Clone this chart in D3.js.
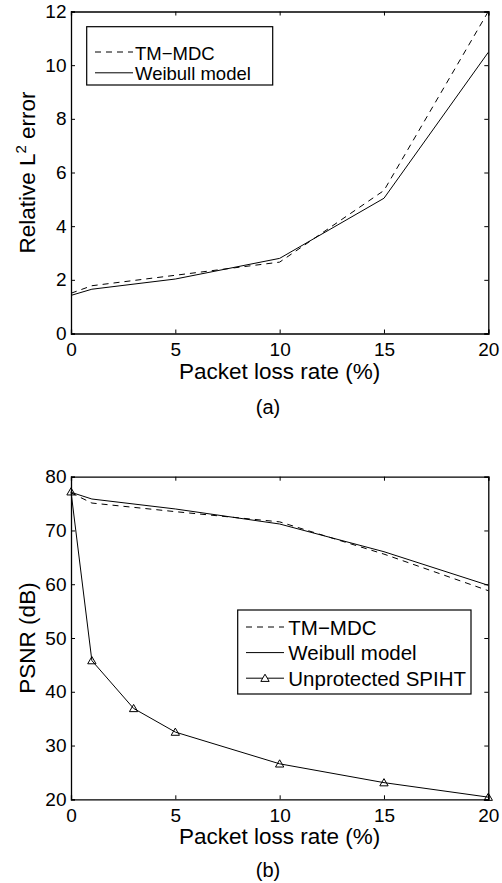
<!DOCTYPE html>
<html><head><meta charset="utf-8">
<script src="https://cdn.jsdelivr.net/npm/d3@7/dist/d3.min.js"></script>
<style>
body{margin:0;background:#fff;}
svg{display:block;}
text{font-family:"Liberation Sans",Arial,Helvetica,sans-serif;fill:#000;}
</style></head>
<body>
<svg id="chart" width="502" height="883"></svg>
<script>
// ---- data ----
const xTicks = [0, 5, 10, 15, 20];
// Panel (a)
const xA = [0, 1, 5, 10, 15, 20];
const tmA = [1.50, 1.78, 2.17, 2.66, 5.33, 12.0];
const weibullA = [1.42, 1.65, 2.03, 2.80, 5.04, 10.48];
const yTicksA = [0, 2, 4, 6, 8, 10, 12];
// Panel (b)
const xB = [0, 1, 5, 10, 15, 20];
const tmB = [77.0, 75.1, 73.5, 71.6, 65.6, 58.8];
const weibullB = [77.1, 75.85, 74.0, 71.2, 66.05, 59.8];
const xS = [0, 1, 3, 5, 10, 15, 20];
const spiht = [77.2, 45.8, 36.9, 32.5, 26.6, 23.1, 20.4];
const yTicksB = [20, 30, 40, 50, 60, 70, 80];
const xLabel = "Packet loss rate (%)";

const svg = d3.select("#chart");

function panel(cfg) {
  const x = d3.scaleLinear().domain([0, 20]).range([71, 488.3]);
  const y = d3.scaleLinear().domain(cfg.yDomain).range([cfg.bottom, cfg.top]);
  const g = svg.append("g");

  // axes
  g.append("g").attr("transform", `translate(0,${cfg.bottom})`)
    .call(d3.axisBottom(x).tickValues(xTicks).tickSize(-4).tickPadding(9).tickFormat(d3.format("d")));
  g.append("g").attr("transform", `translate(0,${cfg.top})`)
    .call(d3.axisTop(x).tickValues(xTicks).tickSize(-4).tickFormat(""));
  g.append("g").attr("transform", `translate(71,0)`)
    .call(d3.axisLeft(y).tickValues(cfg.yTicks).tickSize(-4).tickPadding(4.5).tickFormat(d3.format("d")));
  g.append("g").attr("transform", `translate(488.3,0)`)
    .call(d3.axisRight(y).tickValues(cfg.yTicks).tickSize(-4).tickFormat(""));
  g.selectAll(".domain").attr("stroke", "#000").attr("stroke-width", 1.3);
  g.selectAll(".tick line").attr("stroke", "#000").attr("stroke-width", 1);
  g.selectAll(".tick text").attr("font-size", 19).attr("font-family", '"Liberation Sans",Arial,sans-serif').attr("fill", "#000");

  const line = d3.line().x(d => x(d[0])).y(d => y(d[1]));
  cfg.series.forEach(s => {
    g.append("path").datum(s.xs.map((v, i) => [v, s.ys[i]]))
      .attr("d", line).attr("fill", "none").attr("stroke", "#000")
      .attr("stroke-width", 1).attr("stroke-dasharray", s.dash ? "6,5" : null);
    if (s.marker) {
      g.selectAll(null).data(s.xs.map((v, i) => [v, s.ys[i]])).enter()
        .append("path").attr("d", d3.symbol(d3.symbolTriangle, 30)())
        .attr("transform", d => `translate(${x(d[0])},${y(d[1]) + 0.8})`)
        .attr("fill", "none").attr("stroke", "#000").attr("stroke-width", 1);
    }
  });

  // x label
  g.append("text").attr("x", 279.7).attr("y", cfg.xLabelY).attr("text-anchor", "middle")
    .attr("font-size", 22.5).text(xLabel);
  // y label
  const yl = g.append("text").attr("transform", `translate(35,${(cfg.top + cfg.bottom) / 2}) rotate(-90)`)
    .attr("text-anchor", "middle").attr("font-size", 22.5);
  cfg.yLabel(yl);
  // caption
  g.append("text").attr("x", 268).attr("y", cfg.capY).attr("text-anchor", "middle")
    .attr("font-family", '"Liberation Serif","Times New Roman",serif').attr("font-size", 20).text(cfg.caption);

  // legend
  const L = cfg.legend;
  g.append("rect").attr("x", L.x0).attr("y", L.y0).attr("width", L.x1 - L.x0).attr("height", L.y1 - L.y0)
    .attr("fill", "#fff").attr("stroke", "#000").attr("stroke-width", 1.2);
  cfg.series.forEach((s, i) => {
    const by = L.firstBase + i * L.step;
    const cy = by - 7.5;
    g.append("line").attr("x1", L.lx0).attr("x2", L.lx1).attr("y1", cy).attr("y2", cy)
      .attr("stroke", "#000").attr("stroke-width", 1).attr("stroke-dasharray", s.dash ? "6,5" : null);
    if (s.marker) {
      g.append("path").attr("d", d3.symbol(d3.symbolTriangle, 30)())
        .attr("transform", `translate(${(L.lx0 + L.lx1) / 2},${cy + 0.8})`)
        .attr("fill", "#fff").attr("stroke", "#000").attr("stroke-width", 1);
    }
    g.append("text").attr("x", L.tx).attr("y", by).attr("font-size", L.fs).text(s.name);
  });
}

panel({
  yDomain: [0, 12], top: 11.5, bottom: 333.5, yTicks: yTicksA,
  series: [
    { name: "TM\u2212MDC", xs: xA, ys: tmA, dash: true },
    { name: "Weibull model", xs: xA, ys: weibullA }
  ],
  xLabelY: 378.5, capY: 414, caption: "(a)",
  yLabel: t => {
    t.append("tspan").text("Relative L");
    t.append("tspan").attr("font-size", 15).attr("dy", "-9").text("2");
    t.append("tspan").attr("dy", "9").text(" error");
  },
  legend: { x0: 86.7, x1: 272.7, y0: 26.7, y1: 85, lx0: 95, lx1: 133, tx: 135, firstBase: 59.5, step: 20.8, fs: 18.5 }
});

panel({
  yDomain: [20, 80], top: 476.7, bottom: 799.3, yTicks: yTicksB,
  series: [
    { name: "TM\u2212MDC", xs: xB, ys: tmB, dash: true },
    { name: "Weibull model", xs: xB, ys: weibullB },
    { name: "Unprotected SPIHT", xs: xS, ys: spiht, marker: true }
  ],
  xLabelY: 844, capY: 877, caption: "(b)",
  yLabel: t => t.text("PSNR (dB)"),
  legend: { x0: 237.7, x1: 471, y0: 610, y1: 694, lx0: 246, lx1: 284, tx: 288.3, firstBase: 634.5, step: 25.6, fs: 20.5 }
});
</script>
</body></html>
